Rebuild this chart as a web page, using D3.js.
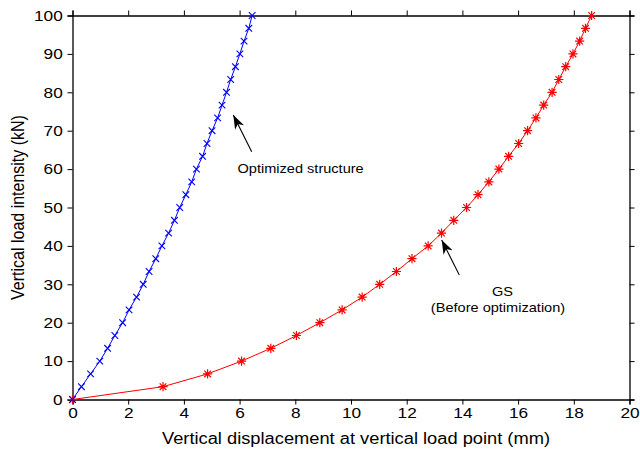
<!DOCTYPE html>
<html><head><meta charset="utf-8">
<script src="https://cdn.jsdelivr.net/npm/d3@7"></script>
<style>body{margin:0;background:#fff}svg{display:block}text{font-family:"Liberation Sans",Arial,sans-serif}</style>
</head><body>
<svg id="c" width="640" height="453"></svg>
<script>
const loads = [0,3.333,6.667,10,13.333,16.667,20,23.333,26.667,30,33.333,36.667,40,43.333,46.667,50,53.333,56.667,60,63.333,66.667,70,73.333,76.667,80,83.333,86.667,90,93.333,96.667,100];
const optimizedDisp = [0,0.32,0.65,0.98,1.26,1.52,1.80,2.03,2.30,2.54,2.75,2.99,3.21,3.45,3.66,3.85,4.07,4.28,4.45,4.67,4.83,5.01,5.21,5.37,5.53,5.68,5.85,6.01,6.16,6.33,6.45];
const gsDisp = [0,3.25,4.85,6.07,7.12,8.04,8.88,9.68,10.40,11.03,11.63,12.19,12.77,13.25,13.69,14.15,14.56,14.95,15.31,15.66,16.02,16.34,16.64,16.92,17.22,17.46,17.71,17.97,18.21,18.42,18.64];
const xTicks = [0,2,4,6,8,10,12,14,16,18,20];
const yTicks = [0,10,20,30,40,50,60,70,80,90,100];

const svg = d3.select("#c");
const L=72.5, R=629.5, T=15.5, B=399.5;
const x = d3.scaleLinear().domain([0,20]).range([L,R]);
const y = d3.scaleLinear().domain([0,100]).range([B,T]);
const SX = 1.15;

// axes
svg.append("g").attr("transform",`translate(0,${B})`).call(d3.axisBottom(x).tickValues(xTicks).tickSize(5).tickPadding(3))
  .call(g=>g.selectAll("text").attr("font-size","15px").attr("fill","#000").attr("transform",`scale(${SX},1)`));
svg.append("g").attr("transform",`translate(0,${T})`).call(d3.axisTop(x).tickValues(xTicks).tickSize(5).tickFormat(""));
svg.append("g").attr("transform",`translate(${L},0)`).call(d3.axisLeft(y).tickValues(yTicks).tickSize(5).tickPadding(3))
  .call(g=>g.selectAll("text").attr("font-size","15px").attr("fill","#000").attr("x",-8.5).attr("transform",`scale(${SX},1)`));
svg.append("g").attr("transform",`translate(${R},0)`).call(d3.axisRight(y).tickValues(yTicks).tickSize(5).tickFormat(""));
svg.selectAll(".domain").attr("stroke","#000").attr("stroke-width",1.3);
svg.selectAll(".tick line").attr("stroke","#000");
svg.selectAll(".tick text").attr("font-family","Liberation Sans, Arial, sans-serif");

// axis labels
svg.append("text").attr("x",356).attr("y",444).attr("text-anchor","middle").attr("font-size","16px")
  .attr("textLength",388).attr("lengthAdjust","spacingAndGlyphs").text("Vertical displacement at vertical load point (mm)");
svg.append("text").attr("transform",`translate(24,${(T+B)/2}) rotate(-90) scale(1,${SX})`).attr("text-anchor","middle").attr("font-size","16px").text("Vertical load intensity (kN)");

const line = d3.line().x(d=>x(d[0])).y(d=>y(d[1]));
const blue = optimizedDisp.map((d,i)=>[d,loads[i]]);
const red = gsDisp.map((d,i)=>[d,loads[i]]);

svg.append("path").datum(red).attr("d",line).attr("fill","none").attr("stroke","#ff0000").attr("stroke-width",1);
svg.append("path").datum(blue).attr("d",line).attr("fill","none").attr("stroke","#0000ff").attr("stroke-width",1);

// red asterisk markers
const s=4.6;
svg.append("g").selectAll("path").data(red).join("path")
  .attr("d",d=>{const cx=x(d[0]),cy=y(d[1]);const a=s*0.72;
    return `M${cx-s},${cy}H${cx+s}M${cx},${cy-s}V${cy+s}M${cx-a},${cy-a}L${cx+a},${cy+a}M${cx-a},${cy+a}L${cx+a},${cy-a}`;})
  .attr("stroke","#ff0000").attr("stroke-width",1.2).attr("fill","none");
// blue x markers
const b=3.3;
svg.append("g").selectAll("path").data(blue).join("path")
  .attr("d",d=>{const cx=x(d[0]),cy=y(d[1]);
    return `M${cx-b},${cy-b}L${cx+b},${cy+b}M${cx-b},${cy+b}L${cx+b},${cy-b}`;})
  .attr("stroke","#0000ff").attr("stroke-width",1.1).attr("fill","none");

// annotations
svg.append("defs").append("marker").attr("id","ah").attr("viewBox","0 0 14 10").attr("refX",14).attr("refY",5)
  .attr("markerWidth",14).attr("markerHeight",10).attr("markerUnits","userSpaceOnUse").attr("orient","auto")
  .append("path").attr("d","M0,0L14,5L0,10L4,5Z").attr("fill","#000");
function arrow(x1,y1,x2,y2){
  svg.append("line").attr("x1",x1).attr("y1",y1).attr("x2",x2).attr("y2",y2).attr("stroke","#000").attr("stroke-width",1.1).attr("marker-end","url(#ah)");
}
arrow(251.7,151.7,233.3,115);
arrow(459.3,275,441.7,240);
function label(tx,ty,anchor,str){
  svg.append("text").attr("transform",`translate(${tx},${ty}) scale(1.12,1)`).attr("text-anchor",anchor).attr("font-size","13px").text(str);
}
label(237.5,173,"start","Optimized structure");
label(502.5,296,"middle","GS");
label(498,312,"middle","(Before optimization)");
</script>
</body></html>
